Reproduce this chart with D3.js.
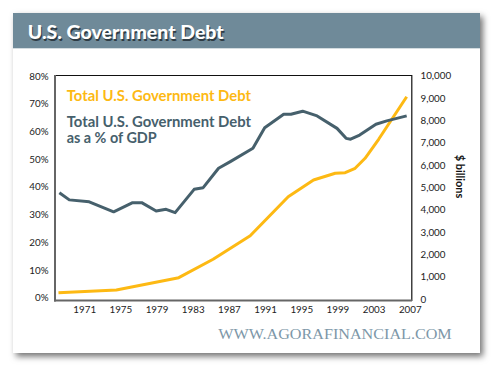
<!DOCTYPE html>
<html><head><meta charset="utf-8">
<script src="https://cdn.jsdelivr.net/npm/d3@7"></script>
<style>html,body{margin:0;padding:0;background:#fff;} svg{display:block;}</style>
</head><body>
<script>
// ---- data ----
const pctYears = [1968.2,1969.3,1971.5,1974.2,1976.3,1977.3,1978.9,1980.0,1981.0,1983.1,1984.1,1985.8,1987.1,1989.6,1990.9,1993.0,1993.8,1995.1,1996.7,1998.9,1999.9,2000.4,2001.4,2003.2,2004.4,2006.6];
const pctValues = [37.9,35.3,34.6,31.0,34.3,34.3,31.3,31.9,30.7,39.1,39.7,46.7,49.1,53.9,61.3,66.2,66.2,67.3,65.6,61.1,57.5,57.2,58.7,62.6,63.8,65.6];
const debtYears = [1968.1,1974.5,1981.4,1985.2,1989.3,1993.5,1996.3,1998.7,1999.8,2000.9,2002.0,2003.5,2006.6];
const debtValues = [282,403,954,1778,2835,4581,5329,5629,5656,5853,6301,7152,9059];
const xTicks = [1971,1975,1979,1983,1987,1991,1995,1999,2003,2007];
const leftTicks = [0,10,20,30,40,50,60,70,80];
const rightTicks = [0,1000,2000,3000,4000,5000,6000,7000,8000,9000,10000];
const title = "U.S. Government Debt";
const legendDebt = "Total U.S. Government Debt";
const legendPct1 = "Total U.S. Government Debt";
const legendPct2 = "as a % of GDP";
const rightAxisTitle = "$ billions";
const watermark = "WWW.AGORAFINANCIAL.COM";

const W = 500, H = 374;
const svg = d3.select("body").append("svg").attr("width", W).attr("height", H);
const defs = svg.append("defs");
const f = defs.append("filter").attr("id","sh").attr("x","-10%").attr("y","-10%").attr("width","125%").attr("height","130%");
f.append("feDropShadow").attr("dx",3).attr("dy",3.5).attr("stdDeviation",3).attr("flood-color","#000").attr("flood-opacity",0.55);

// card
svg.append("rect").attr("x",13).attr("y",13).attr("width",467).attr("height",340).attr("fill","#fff").attr("filter","url(#sh)");
svg.append("rect").attr("x",13).attr("y",13).attr("width",467).attr("height",35.3).attr("fill","#6f8a99");
svg.append("text").attr("x",28.8).attr("y",40.5).text(title)
  .attr("font-family","Lato").attr("font-weight",900).attr("font-size",19).attr("fill","#2e3c45")
  .attr("textLength",196).attr("lengthAdjust","spacingAndGlyphs");
svg.append("text").attr("x",27.7).attr("y",39.3).text(title)
  .attr("font-family","Lato").attr("font-weight",900).attr("font-size",19).attr("fill","#fff")
  .attr("textLength",196).attr("lengthAdjust","spacingAndGlyphs");

// scales
const x = d3.scaleLinear().domain([1971,2007]).range([84.7,410.3]);
const yL = d3.scaleLinear().domain([0,80]).range([297.7,76]);
const yR = d3.scaleLinear().domain([0,10000]).range([299,75.7]);

// frame
svg.append("line").attr("x1",55).attr("x2",412).attr("y1",75.5).attr("y2",75.5).attr("stroke","#111").attr("stroke-width",1.2);
svg.append("line").attr("x1",411.8).attr("x2",411.8).attr("y1",75).attr("y2",301).attr("stroke","#111").attr("stroke-width",1.2);
svg.append("line").attr("x1",55).attr("x2",55).attr("y1",75).attr("y2",301.5).attr("stroke","#666").attr("stroke-width",2);
svg.append("line").attr("x1",54).attr("x2",412).attr("y1",300.6).attr("y2",300.6).attr("stroke","#666").attr("stroke-width",2);

const font = "Lato";
// left axis labels
svg.append("g").selectAll("text").data(leftTicks).join("text")
  .attr("x",48.5).attr("y",d=>yL(d)).attr("dy","0.36em").attr("text-anchor","end")
  .attr("font-family",font).attr("font-size",9.8).attr("fill","#222").text(d=>d+"%");
// right axis labels
svg.append("g").selectAll("text").data(rightTicks).join("text")
  .attr("x",420.5).attr("y",d=>yR(d)).attr("dy","0.36em").attr("text-anchor","start")
  .attr("font-family",font).attr("font-size",9.8).attr("fill","#222").text(d=>d3.format(",")(d));
// x labels
svg.append("g").selectAll("text").data(xTicks).join("text")
  .attr("x",d=>x(d)).attr("y",313).attr("text-anchor","middle")
  .attr("font-family",font).attr("font-size",9.8).attr("fill","#222").text(d=>d);
// right axis title
svg.append("text").attr("transform","translate(455.5,176.5) rotate(90)").attr("text-anchor","middle")
  .attr("font-family",font).attr("font-weight",700).attr("font-size",11).attr("fill","#111").text(rightAxisTitle);

// lines
const lineL = d3.line().x(d=>x(d[0])).y(d=>yL(d[1]));
const lineR = d3.line().x(d=>x(d[0])).y(d=>yR(d[1]));
svg.append("path").datum(debtYears.map((y,i)=>[y,debtValues[i]])).attr("d",lineR)
  .attr("fill","none").attr("stroke","#fdb913").attr("stroke-width",3).attr("stroke-linejoin","round");
svg.append("path").datum(pctYears.map((y,i)=>[y,pctValues[i]])).attr("d",lineL)
  .attr("fill","none").attr("stroke","#46606c").attr("stroke-width",3).attr("stroke-linejoin","round");

// legend texts
svg.append("text").attr("x",66.7).attr("y",100.7).text(legendDebt)
  .attr("font-family",font).attr("font-weight",700).attr("font-size",14.8).attr("fill","#fdb913")
  .attr("textLength",184.3).attr("lengthAdjust","spacingAndGlyphs");
svg.append("text").attr("x",66.7).attr("y",126.8).text(legendPct1)
  .attr("font-family",font).attr("font-weight",700).attr("font-size",14.2).attr("fill","#46606c")
  .attr("textLength",184.3).attr("lengthAdjust","spacingAndGlyphs");
svg.append("text").attr("x",66.7).attr("y",143).text(legendPct2)
  .attr("font-family",font).attr("font-weight",700).attr("font-size",14.2).attr("fill","#46606c")
  .attr("textLength",90).attr("lengthAdjust","spacingAndGlyphs");

// watermark
svg.append("text").attr("x",218.3).attr("y",339).text(watermark)
  .attr("font-family","Liberation Serif").attr("font-size",15).attr("fill","#7d97a8")
  .attr("textLength",233.4).attr("lengthAdjust","spacingAndGlyphs");
</script>
</body></html>
